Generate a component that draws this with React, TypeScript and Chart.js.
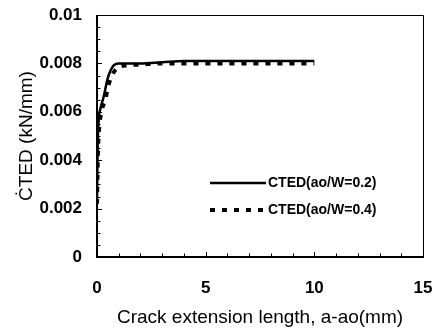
import React, { useEffect, useRef } from "react";
import { Chart, registerables } from "chart.js";

Chart.register(...registerables);

// Series ao/W = 0.2 (solid)
const xA = [0, 0.03, 0.08, 0.15, 0.3, 0.5, 0.75, 1.0, 1.5, 2, 3, 4, 6, 8, 10];
const yA = [0.0024, 0.0045, 0.0057, 0.0061, 0.0066, 0.0074, 0.0079, 0.0080, 0.0080, 0.0080, 0.00805, 0.0081, 0.0081, 0.0081, 0.0081];
// Series ao/W = 0.4 (dashed)
const xB = [0, 0.05, 0.12, 0.23, 0.38, 0.53, 0.69, 0.92, 1.4, 2, 3, 5, 7, 10];
const yB = [0.0022, 0.0045, 0.0055, 0.0061, 0.0065, 0.0071, 0.0075, 0.0078, 0.00792, 0.00795, 0.0080, 0.0080, 0.0080, 0.0080];

const seriesLabels = ["CTED(ao/W=0.2)", "CTED(ao/W=0.4)"];
const xTicks = [0, 5, 10, 15];
const yTicks = [0, 0.002, 0.004, 0.006, 0.008, 0.01];
const yTickLabels = ["0", "0.002", "0.004", "0.006", "0.008", "0.01"];
const xMinorStep = 1;
const yMinorStep = 0.0005;

const FONT = "'Liberation Sans', Arial, sans-serif";

const framePlugin = {
  id: "frame",
  afterDatasetsDraw(chart: any) {
    const { ctx, chartArea: a, scales } = chart;
    const xs = scales.x;
    const ys = scales.y;
    ctx.save();
    ctx.strokeStyle = "#000";
    // border
    ctx.lineWidth = 1;
    ctx.beginPath();
    ctx.moveTo(a.left, a.top + 0.5);
    ctx.lineTo(a.right + 0.5, a.top + 0.5);
    ctx.lineTo(a.right + 0.5, a.bottom);
    ctx.stroke();
    ctx.lineWidth = 2;
    ctx.beginPath();
    ctx.moveTo(a.left, a.top);
    ctx.lineTo(a.left, a.bottom);
    ctx.lineTo(a.right + 1, a.bottom);
    ctx.stroke();
    // minor ticks
    ctx.lineWidth = 1;
    ctx.beginPath();
    for (let v = 0; v <= xs.max + 1e-9; v += xMinorStep) {
      const px = Math.round(xs.getPixelForValue(v)) + 0.5;
      const major = xTicks.includes(Math.round(v));
      ctx.moveTo(px, a.bottom);
      ctx.lineTo(px, a.bottom - (major ? 5 : 3.5));
    }
    for (let i = 0; i * yMinorStep <= ys.max + 1e-9; i++) {
      const v = i * yMinorStep;
      const py = Math.round(ys.getPixelForValue(v)) + 0.5;
      const major = i % 4 === 0;
      ctx.moveTo(a.left, py);
      ctx.lineTo(a.left + (major ? 5 : 3.5), py);
    }
    ctx.stroke();

    // legend
    const rows = [183, 210];
    const x0 = 210;
    const x1 = 266;
    chart.data.datasets.forEach((ds: any, i: number) => {
      const y = rows[i];
      ctx.save();
      ctx.strokeStyle = ds.borderColor;
      ctx.lineWidth = ds.borderWidth;
      ctx.setLineDash(ds.borderDash || []);
      ctx.beginPath();
      ctx.moveTo(x0, y);
      ctx.lineTo(x1, y);
      ctx.stroke();
      ctx.restore();
      ctx.fillStyle = "#000";
      ctx.font = `bold 14px ${FONT}`;
      ctx.textBaseline = "middle";
      ctx.textAlign = "left";
      ctx.fillText(ds.label, 268, y);
    });
    ctx.restore();
  },
};

const zeroPad = (s: any) => {
  s.paddingLeft = 0;
  s.paddingRight = 0;
  s.paddingTop = 0;
  s.paddingBottom = 0;
};

export default function App() {
  const ref = useRef<HTMLCanvasElement>(null);
  useEffect(() => {
    document.body.style.margin = "0";
    const chart = new Chart(ref.current!, {
      type: "scatter",
      data: {
        datasets: [
          {
            label: seriesLabels[0],
            data: xA.map((x, i) => ({ x, y: yA[i] })),
            showLine: true,
            borderColor: "#000",
            borderWidth: 2.5,
            pointRadius: 0,
            cubicInterpolationMode: "monotone",
          },
          {
            label: seriesLabels[1],
            data: xB.map((x, i) => ({ x, y: yB[i] })),
            showLine: true,
            borderColor: "#000",
            borderWidth: 4,
            borderDash: [5, 7],
            pointRadius: 0,
            cubicInterpolationMode: "monotone",
          },
        ],
      },
      options: {
        responsive: false,
        animation: false,
        layout: { padding: { top: 15, right: 10, left: 0, bottom: 0 } },
        plugins: { legend: { display: false }, tooltip: { enabled: false } },
        scales: {
          x: {
            type: "linear",
            min: 0,
            max: 15,
            grid: { display: false, drawTicks: false },
            border: { display: false },
            afterBuildTicks: (s: any) => {
              s.ticks = xTicks.map((v) => ({ value: v }));
            },
            afterFit: (s: any) => {
              s.height = 73;
              zeroPad(s);
            },
            ticks: {
              color: "#000",
              padding: 21,
              font: { family: FONT, size: 17, weight: "bold" },
              callback: (v: any) => String(v),
            },
            title: {
              display: true,
              text: "Crack extension length, a-ao(mm)",
              color: "#000",
              font: { family: FONT, size: 19 },
              padding: { top: 0, bottom: 1 },
            },
          },
          y: {
            type: "linear",
            min: 0,
            max: 0.01,
            grid: { display: false, drawTicks: false },
            border: { display: false },
            afterBuildTicks: (s: any) => {
              s.ticks = yTicks.map((v) => ({ value: v }));
            },
            afterFit: (s: any) => {
              s.width = 97;
              zeroPad(s);
            },
            ticks: {
              color: "#000",
              padding: 15,
              font: { family: FONT, size: 17, weight: "bold" },
              callback: (v: any) => {
                const idx = yTicks.findIndex((t) => Math.abs(t - v) < 1e-9);
                return idx >= 0 ? yTickLabels[idx] : "";
              },
            },
            title: {
              display: true,
              text: "ĊTED (kN/mm)",
              color: "#000",
              font: { family: FONT, size: 19 },
              padding: { top: 15, bottom: 0 },
            },
          },
        },
      },
      plugins: [framePlugin],
    });
    return () => chart.destroy();
  }, []);
  return (
    <div style={{ width: 433, height: 330 }}>
      <canvas ref={ref} width={433} height={330} />
    </div>
  );
}
